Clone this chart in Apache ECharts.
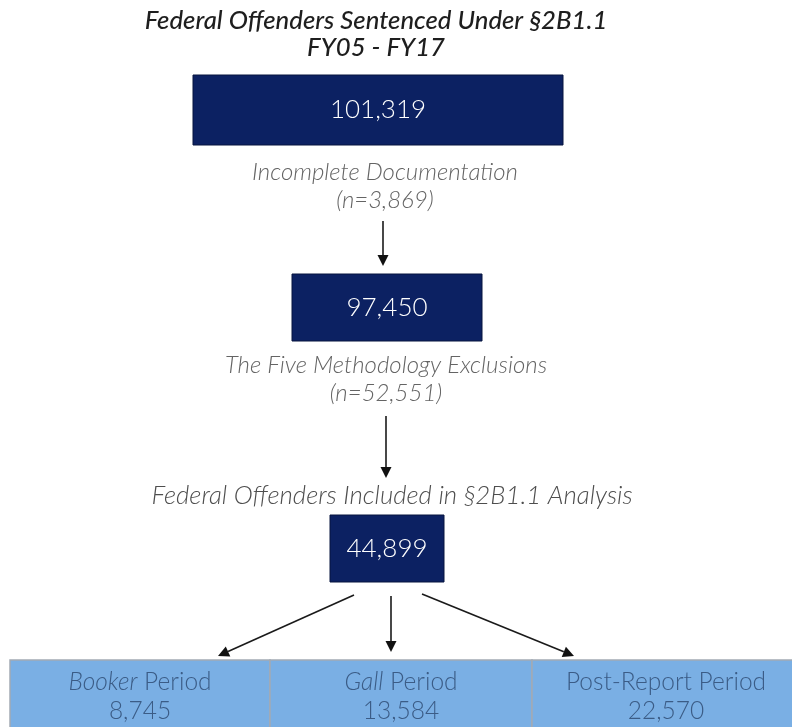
<!DOCTYPE html>
<html>
<head>
<meta charset="utf-8">
<script src="https://cdn.jsdelivr.net/npm/echarts@6/dist/echarts.min.js"></script>
<style>
html,body{margin:0;padding:0;background:#fff;}
#chart{width:792px;height:727px;}
</style>
</head>
<body>
<div id="chart"></div>
<script>
// ---- data ----
const titleLines = ['Federal Offenders Sentenced Under §2B1.1', 'FY05 - FY17'];
const stageValues = [101319, 97450, 44899];
const exclusionLabels = ['Incomplete Documentation', 'The Five Methodology Exclusions'];
const exclusionCounts = [3869, 52551];
const includedLabel = 'Federal Offenders Included in §2B1.1 Analysis';
const periodNames = ['Booker', 'Gall', 'Post-Report'];
const periodItalic = [true, true, false];
const periodCounts = [8745, 13584, 22570];

// ---- layout (pixel space of the page, via hidden axes) ----
const titlePos = [{x: 376, y: 21}, {x: 376, y: 48}];
const stageBoxes = [
  {x0: 193, y0: 75,  x1: 563, y1: 145},
  {x0: 292, y0: 274, x1: 482, y1: 341},
  {x0: 330, y0: 515, x1: 444, y1: 582}
];
const exclusionPos = [{x: 385, y1: 172, y2: 200}, {x: 386, y1: 365, y2: 393}];
const includedPos = {x: 392, y: 496};
const periodCells = [
  {x0: 10, x1: 270}, {x0: 270, x1: 532}, {x0: 532, x1: 800}
];
const periodTop = 660, periodBottom = 740;
const arrows = [
  [[383, 221], [383, 266]],
  [[386, 416], [386, 478]],
  [[354, 595], [218, 656]],
  [[391, 596], [391, 652]],
  [[422, 594], [574, 656]]
];

const fmt = v => v.toLocaleString('en-US');

const chart = echarts.init(document.getElementById('chart'), null, {renderer: 'canvas'});

function box(api, x0, y0, x1, y1) {
  const p0 = api.coord([x0, y0]);
  const p1 = api.coord([x1, y1]);
  return {x: p0[0], y: p0[1], width: p1[0] - p0[0], height: p1[1] - p0[1]};
}

const option = {
  backgroundColor: '#ffffff',
  animation: false,
  grid: {left: 0, right: 0, top: 0, bottom: 0},
  xAxis: {type: 'value', min: 0, max: 792, show: false},
  yAxis: {type: 'value', min: 0, max: 727, inverse: true, show: false},
  series: [
    {
      type: 'custom', name: 'title',
      data: titleLines.map((t, i) => [i, 0]),
      renderItem: function (params, api) {
        const i = params.dataIndex;
        const a = api.coord([titlePos[i].x, titlePos[i].y]);
        return {
          type: 'text', x: a[0], y: a[1],
          style: {text: titleLines[i], fill: '#1e1e1e', fontFamily: 'Lato', fontStyle: 'italic',
            fontWeight: 500, fontSize: 25.7, align: 'center', verticalAlign: 'middle'}
        };
      }
    },
    {
      type: 'custom', name: 'stages',
      data: stageValues.map((v, i) => [i, v]),
      renderItem: function (params, api) {
        const i = params.dataIndex;
        const b = stageBoxes[i];
        return {
          type: 'rect',
          shape: box(api, b.x0, b.y0, b.x1, b.y1),
          style: {fill: '#0c2162', stroke: '#07153f', lineWidth: 1},
          textContent: {
            style: {text: fmt(stageValues[i]), fill: '#ffffff',
              fontFamily: 'Lato', fontWeight: 300, fontSize: 26}
          },
          textConfig: {position: 'inside'}
        };
      }
    },
    {
      type: 'custom', name: 'exclusions',
      data: exclusionCounts.map((v, i) => [i, v]),
      renderItem: function (params, api) {
        const i = params.dataIndex;
        const p = exclusionPos[i];
        const a = api.coord([p.x, p.y1]);
        const b = api.coord([p.x, p.y2]);
        const st = {fill: '#646464', fontFamily: 'Lato', fontStyle: 'italic', fontWeight: 300,
          fontSize: 24, align: 'center', verticalAlign: 'middle'};
        return {
          type: 'group',
          children: [
            {type: 'text', x: a[0], y: a[1], style: Object.assign({text: exclusionLabels[i]}, st)},
            {type: 'text', x: b[0], y: b[1], style: Object.assign({text: '(n=' + fmt(exclusionCounts[i]) + ')'}, st)}
          ]
        };
      }
    },
    {
      type: 'custom', name: 'included',
      data: [[0, stageValues[2]]],
      renderItem: function (params, api) {
        const a = api.coord([includedPos.x, includedPos.y]);
        return {
          type: 'text', x: a[0], y: a[1],
          style: {text: includedLabel, fill: '#4e4e4e', fontFamily: 'Lato', fontStyle: 'italic',
            fontWeight: 300, fontSize: 25.8, align: 'center', verticalAlign: 'middle'}
        };
      }
    },
    {
      type: 'custom', name: 'periods',
      data: periodCounts.map((v, i) => [i, v]),
      renderItem: function (params, api) {
        const i = params.dataIndex;
        const c = periodCells[i];
        const name = periodItalic[i] ? '{it|' + periodNames[i] + '} Period' : periodNames[i] + ' Period';
        return {
          type: 'rect',
          shape: box(api, c.x0, periodTop, c.x1, periodBottom),
          style: {fill: '#7aafe4', stroke: '#a3abb4', lineWidth: 1.5},
          textContent: {
            style: {
              text: name + '\n' + fmt(periodCounts[i]),
              fill: '#3b5c86', fontFamily: 'Lato', fontWeight: 300, fontSize: 24.5,
              lineHeight: 29, align: 'center',
              rich: {it: {fontStyle: 'italic', fontFamily: 'Lato', fontWeight: 300, fontSize: 24.5,
                lineHeight: 29, fill: '#3b5c86'}}
            }
          },
          textConfig: {position: 'insideTop', distance: 8}
        };
      }
    },
    {
      type: 'custom', name: 'arrows',
      data: arrows.map((a, i) => [i, 0]),
      renderItem: function (params, api) {
        const seg = arrows[params.dataIndex];
        const s = api.coord(seg[0]);
        const e = api.coord(seg[1]);
        const dx = e[0] - s[0], dy = e[1] - s[1];
        const len = Math.sqrt(dx * dx + dy * dy);
        const ux = dx / len, uy = dy / len;
        const hl = 11, hw = 5.5;
        const bx = e[0] - ux * hl, by = e[1] - uy * hl;
        return {
          type: 'group',
          children: [
            {type: 'line', shape: {x1: s[0], y1: s[1], x2: bx, y2: by},
              style: {stroke: '#1a1a1a', lineWidth: 1.6}},
            {type: 'polygon', shape: {points: [
              [e[0], e[1]],
              [bx - uy * hw, by + ux * hw],
              [bx + uy * hw, by - ux * hw]
            ]}, style: {fill: '#111111'}}
          ]
        };
      }
    }
  ]
};
chart.setOption(option);
</script>
</body>
</html>
